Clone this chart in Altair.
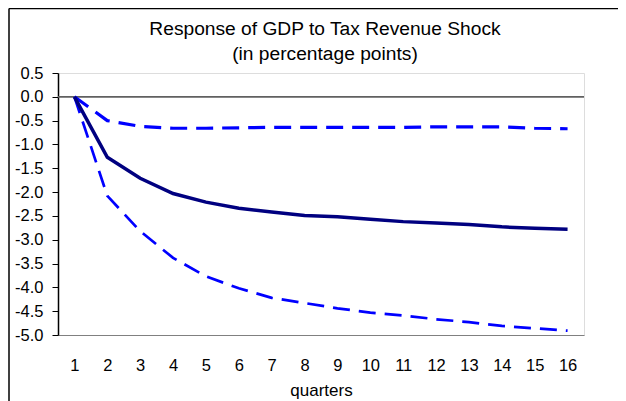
import altair as alt
import pandas as pd

quarters = list(range(1, 17))
response = [0.0, -1.27, -1.71, -2.03, -2.21, -2.34, -2.42, -2.49, -2.52, -2.57, -2.62, -2.65, -2.68, -2.73, -2.76, -2.78]
upper_band = [0.0, -0.50, -0.62, -0.66, -0.66, -0.65, -0.64, -0.64, -0.64, -0.64, -0.64, -0.63, -0.63, -0.63, -0.66, -0.67]
lower_band = [0.0, -2.08, -2.82, -3.38, -3.77, -4.02, -4.22, -4.33, -4.44, -4.53, -4.59, -4.67, -4.73, -4.81, -4.86, -4.91]
y_ticks = [0.5, 0.0, -0.5, -1.0, -1.5, -2.0, -2.5, -3.0, -3.5, -4.0, -4.5, -5.0]

FONT = "Liberation Sans"

df_resp = pd.DataFrame({"q": quarters, "v": response})
df_up = pd.DataFrame({"q": quarters, "v": upper_band})
df_lo = pd.DataFrame({"q": quarters, "v": lower_band})

x_enc = alt.X(
    "q:O",
    scale=alt.Scale(type="point", padding=0.5),
    axis=alt.Axis(
        title="quarters",
        labelAngle=0,
        ticks=False,
        tickSize=0,
        labelPadding=22,
        labelFont=FONT,
        labelFontSize=16.5,
        labelColor="#000000",
        titleFont=FONT,
        titleFontSize=17,
        titleFontWeight="normal",
        titleColor="#000000",
        titlePadding=9,
        domain=True,
        domainColor="#808080",
        domainWidth=1,
        grid=False,
    ),
)
y_scale = alt.Scale(domain=[-5.0, 0.5], nice=False, zero=False)
y_axis = alt.Axis(
    title=None,
    values=y_ticks,
    labelExpr="replace(format(datum.value, '.1f'), '\u2212', '-')",
    labelFont=FONT,
    labelFontSize=16.5,
    labelColor="#000000",
    labelPadding=9,
    tickSize=6,
    tickColor="#000000",
    tickWidth=1,
    domainColor="#000000",
    domainWidth=1.5,
    grid=False,
)

base_dummy = pd.DataFrame({"z": [0.0]})

zero_rule = alt.Chart(base_dummy).mark_rule(color="#606060", strokeWidth=1.8).encode(
    y=alt.Y("z:Q", scale=y_scale, axis=y_axis)
)

line_up = alt.Chart(df_up).mark_line(color="#0000FF", strokeWidth=3.2, strokeDash=[17, 9]).encode(
    x=x_enc, y=alt.Y("v:Q", scale=y_scale, axis=y_axis)
)
line_lo = alt.Chart(df_lo).mark_line(color="#0000FF", strokeWidth=2.7, strokeDash=[17, 9]).encode(
    x=x_enc, y=alt.Y("v:Q", scale=y_scale, axis=y_axis)
)
line_resp = alt.Chart(df_resp).mark_line(color="#000080", strokeWidth=3.5).encode(
    x=x_enc, y=alt.Y("v:Q", scale=y_scale, axis=y_axis)
)

frame_left = alt.Chart(base_dummy).mark_rule(color="#000000", strokeWidth=1.5).encode(
    x=alt.value(-49), y=alt.value(-64.5), y2=alt.value(400)
)
frame_top = alt.Chart(base_dummy).mark_rule(color="#000000", strokeWidth=1.5).encode(
    x=alt.value(-49), x2=alt.value(620), y=alt.value(-64.5)
)

chart = alt.layer(
    zero_rule, line_up, line_lo, line_resp, frame_left, frame_top
).properties(
    width=526,
    height=262,
    autosize=alt.AutoSizeParams(type="none"),
    padding={"left": 50, "top": 65, "right": 34, "bottom": 66},
    title=alt.TitleParams(
        text=["Response of GDP to Tax Revenue Shock", "(in percentage points)"],
        font=FONT,
        fontSize=19.2,
        fontWeight="normal",
        color="#000000",
        anchor="middle",
        baseline="alphabetic",
        lineHeight=25,
        offset=0,
        dy=71,
        dx=4,
    ),
).configure_view(
    stroke="#8c8c8c", strokeWidth=1.5
).configure(background="white")

chart.save("out.html", embed_options={"renderer": "svg", "actions": False})
